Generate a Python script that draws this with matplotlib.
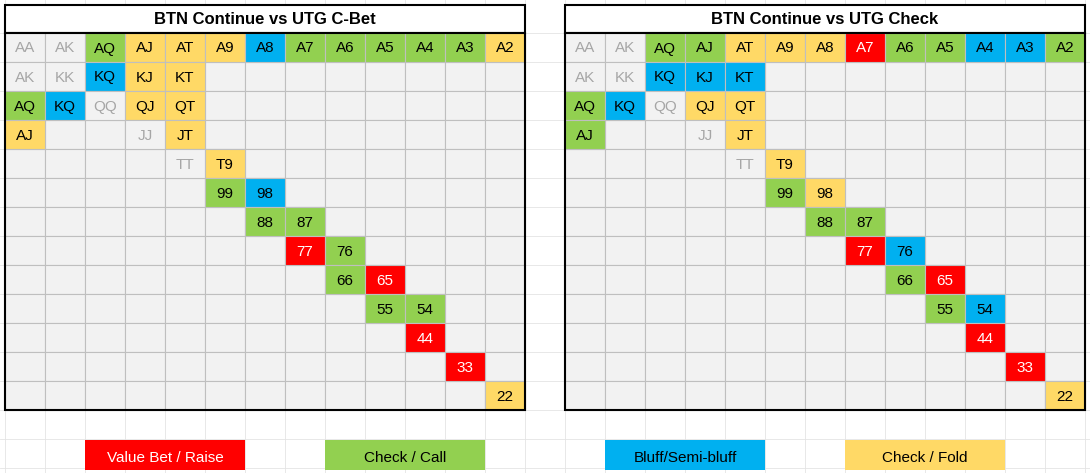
import matplotlib
matplotlib.use("Agg")
import matplotlib.pyplot as plt
from matplotlib.patches import Rectangle

titles = ["BTN Continue vs UTG C-Bet", "BTN Continue vs UTG Check"]
# (row, col, label, code) code: r=value, g=call, b=bluff, y=fold, n=neutral(grey text)
left_cells = [
    (0,0,"AA","n"),(0,1,"AK","n"),(0,2,"AQ","g"),(0,3,"AJ","y"),(0,4,"AT","y"),(0,5,"A9","y"),
    (0,6,"A8","b"),(0,7,"A7","g"),(0,8,"A6","g"),(0,9,"A5","g"),(0,10,"A4","g"),(0,11,"A3","g"),(0,12,"A2","y"),
    (1,0,"AK","n"),(1,1,"KK","n"),(1,2,"KQ","b"),(1,3,"KJ","y"),(1,4,"KT","y"),
    (2,0,"AQ","g"),(2,1,"KQ","b"),(2,2,"QQ","n"),(2,3,"QJ","y"),(2,4,"QT","y"),
    (3,0,"AJ","y"),(3,3,"JJ","n"),(3,4,"JT","y"),
    (4,4,"TT","n"),(4,5,"T9","y"),
    (5,5,"99","g"),(5,6,"98","b"),
    (6,6,"88","g"),(6,7,"87","g"),
    (7,7,"77","r"),(7,8,"76","g"),
    (8,8,"66","g"),(8,9,"65","r"),
    (9,9,"55","g"),(9,10,"54","g"),
    (10,10,"44","r"),(11,11,"33","r"),(12,12,"22","y"),
]
right_cells = [
    (0,0,"AA","n"),(0,1,"AK","n"),(0,2,"AQ","g"),(0,3,"AJ","g"),(0,4,"AT","y"),(0,5,"A9","y"),
    (0,6,"A8","y"),(0,7,"A7","r"),(0,8,"A6","g"),(0,9,"A5","g"),(0,10,"A4","b"),(0,11,"A3","b"),(0,12,"A2","g"),
    (1,0,"AK","n"),(1,1,"KK","n"),(1,2,"KQ","b"),(1,3,"KJ","b"),(1,4,"KT","b"),
    (2,0,"AQ","g"),(2,1,"KQ","b"),(2,2,"QQ","n"),(2,3,"QJ","y"),(2,4,"QT","y"),
    (3,0,"AJ","g"),(3,3,"JJ","n"),(3,4,"JT","y"),
    (4,4,"TT","n"),(4,5,"T9","y"),
    (5,5,"99","g"),(5,6,"98","y"),
    (6,6,"88","g"),(6,7,"87","g"),
    (7,7,"77","r"),(7,8,"76","b"),
    (8,8,"66","g"),(8,9,"65","r"),
    (9,9,"55","g"),(9,10,"54","b"),
    (10,10,"44","r"),(11,11,"33","r"),(12,12,"22","y"),
]
legend_labels = ["Value Bet / Raise", "Check / Call", "Bluff/Semi-bluff", "Check / Fold"]
legend_codes = ["r", "g", "b", "y"]

colors = {"r": "#ff0000", "g": "#92d050", "b": "#00b0f0", "y": "#ffd966", "n": "#f2f2f2"}
textcol = {"r": "white", "g": "black", "b": "black", "y": "black", "n": "#a6a6a6"}

FONT = "Liberation Sans"
fig = plt.figure(figsize=(10.9, 4.73), dpi=100)
ax = fig.add_axes([0, 0, 1, 1])
ax.set_xlim(0, 1090); ax.set_ylim(473, 0); ax.axis("off")

# faint spreadsheet gridlines in background
for x in range(5, 1090, 40):
    ax.plot([x, x], [0, 473], color="#e4e4e4", lw=0.6, zorder=0)
for y in range(33, 473, 29):
    ax.plot([0, 1090], [y, y], color="#e4e4e4", lw=0.6, zorder=0)

cw, ch = 40, 29
for gx, title, cells in [(5, titles[0], left_cells), (565, titles[1], right_cells)]:
    top = 33
    ax.add_patch(Rectangle((gx, 5), 13*cw, 28, facecolor="white", edgecolor="black", lw=1.5, zorder=2))
    ax.text(gx + 13*cw/2, 19, title, ha="center", va="center", fontsize=12, fontweight="bold", family=FONT, zorder=5)
    for r in range(13):
        for c in range(13):
            ax.add_patch(Rectangle((gx + c*cw, top + r*ch), cw, ch, facecolor="#f2f2f2", edgecolor="#bfbfbf", lw=0.8, zorder=1))
    for r, c, lab, code in cells:
        ax.add_patch(Rectangle((gx + c*cw, top + r*ch), cw, ch, facecolor=colors[code], edgecolor="#bfbfbf", lw=0.8, zorder=2))
        ax.text(gx + c*cw + cw/2, top + r*ch + ch/2 + 1, lab, ha="center", va="center", fontsize=11,
                color=textcol[code], family=FONT, zorder=5)
    ax.add_patch(Rectangle((gx, top), 13*cw, 13*ch, facecolor="none", edgecolor="black", lw=1.5, zorder=4))

lx = [85, 325, 605, 845]
for x, lab, code in zip(lx, legend_labels, legend_codes):
    ax.add_patch(Rectangle((x, 440), 160, 30, facecolor=colors[code], edgecolor="none", zorder=3))
    ax.text(x + 80, 458, lab, ha="center", va="center", fontsize=11, color=textcol[code], family=FONT, zorder=5)

fig.savefig("out.png", dpi=100)
